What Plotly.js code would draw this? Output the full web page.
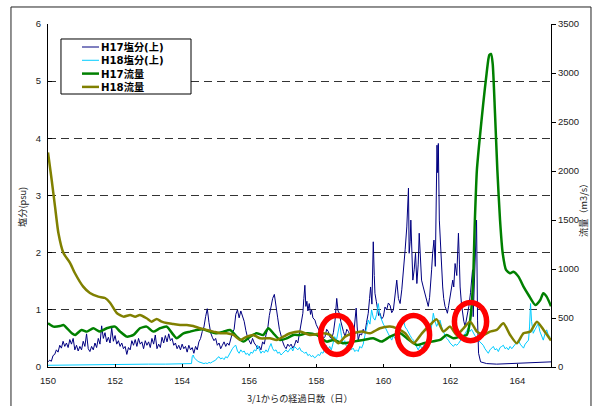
<!DOCTYPE html>
<html><head><meta charset="utf-8">
<script src="https://cdn.plot.ly/plotly-3.0.1.min.js"></script>
<style>html,body{margin:0;padding:0;background:#fff}#chart{width:595px;height:406px}</style>
</head><body><div id="chart"></div>
<script>
// ---- data ----
const seriesNames = ['H17塩分(上)', 'H18塩分(上)', 'H17流量', 'H18流量'];

const h17SaltDay = [150.00,150.05,150.10,150.15,150.20,150.25,150.30,150.35,150.40,150.45,150.50,150.55,150.60,150.65,150.70,150.75,150.80,150.85,150.90,150.95,
151.00,151.05,151.10,151.15,151.20,151.25,151.30,151.35,151.40,151.45,151.50,151.55,151.60,151.65,151.70,151.75,151.80,151.85,151.90,151.95,
152.00,152.05,152.10,152.15,152.20,152.25,152.30,152.35,152.40,152.45,152.50,152.55,152.60,152.65,152.70,152.75,152.80,152.85,152.90,152.95,
153.00,153.05,153.10,153.15,153.20,153.25,153.30,153.35,153.40,153.45,153.50,153.55,153.60,153.65,153.70,153.75,153.80,153.85,153.90,153.95,
154.00,154.05,154.10,154.15,154.20,154.25,154.30,154.35,154.40,154.45,154.50,154.55,154.60,154.65,154.70,154.75,154.80,154.85,154.90,154.95,
155.00,155.05,155.10,155.15,155.20,155.25,155.30,155.35,155.40,155.45,155.50,155.55,155.60,155.65,155.70,155.75,155.80,155.85,155.90,155.95,
156.00,156.05,156.10,156.15,156.20,156.25,156.30,156.35,156.40,156.45,156.50,156.55,156.60,156.65,156.70,156.75,156.80,156.85,156.90,156.95,
157.00,157.05,157.10,157.15,157.20,157.25,157.30,157.35,157.40,157.45,157.50,157.55,157.60,157.63,157.66,157.69,157.72,157.75,157.79,157.83,
157.86,157.90,157.96,158.00,158.06,158.10,158.16,158.21,158.26,158.31,158.36,158.41,158.46,158.51,158.56,158.61,158.65,158.69,158.73,158.76,
158.81,158.86,158.91,158.96,159.01,159.06,159.12,159.16,159.19,159.22,159.25,159.30,159.35,159.40,159.45,159.50,159.55,159.59,159.62,159.66,
159.70,159.73,159.75,159.79,159.82,159.86,159.90,159.95,160.00,160.05,160.10,160.15,160.20,160.25,160.30,160.35,160.40,160.45,160.50,160.55,
160.60,160.65,160.70,160.75,160.77,160.80,160.82,160.85,160.88,160.92,160.96,161.00,161.04,161.07,161.10,161.14,161.19,161.24,161.29,161.34,
161.38,161.41,161.44,161.47,161.51,161.55,161.58,161.60,161.62,161.64,161.67,161.71,161.74,161.77,161.80,161.84,161.88,161.91,161.95,161.99,
162.03,162.07,162.10,162.14,162.19,162.24,162.27,162.29,162.33,162.37,162.40,162.44,162.49,162.55,162.60,162.64,162.66,162.68,162.71,162.73,
162.76,162.78,162.81,162.84,162.90,163.00,163.08,163.38,163.78,164.18,164.57,165.00];
const h17Salt = [0.09,0.12,0.10,0.20,0.22,0.30,0.26,0.38,0.33,0.45,0.36,0.42,0.34,0.48,0.40,0.50,0.30,0.38,0.28,0.36,
0.30,0.45,0.36,0.58,0.32,0.27,0.36,0.30,0.42,0.34,0.50,0.40,0.72,0.50,0.60,0.44,0.52,0.42,0.68,0.45,
0.55,0.40,0.46,0.36,0.42,0.32,0.36,0.22,0.34,0.30,0.46,0.38,0.48,0.36,0.50,0.40,0.44,0.32,0.46,0.38,
0.44,0.34,0.50,0.40,0.56,0.32,0.40,0.34,0.52,0.42,0.55,0.44,0.58,0.46,0.50,0.38,0.42,0.32,0.38,0.30,
0.40,0.32,0.36,0.26,0.38,0.30,0.34,0.24,0.36,0.30,0.44,0.50,0.62,0.70,0.88,1.02,0.78,0.60,0.52,0.46,
0.50,0.38,0.42,0.32,0.38,0.44,0.36,0.42,0.38,0.52,0.60,0.66,0.92,1.00,0.86,0.98,0.90,0.80,0.64,0.52,
0.46,0.40,0.50,0.42,0.38,0.32,0.36,0.30,0.44,0.40,0.56,0.66,0.90,1.05,1.20,1.27,1.02,0.86,0.66,0.52,
0.44,0.36,0.32,0.40,0.36,0.40,0.33,0.38,0.47,0.42,0.59,0.70,0.94,1.20,1.43,1.06,1.15,0.98,1.11,0.92,
1.00,0.86,0.82,0.74,0.68,0.62,0.59,0.50,0.53,0.66,0.62,0.52,0.50,0.60,0.82,1.20,0.98,0.94,0.80,0.71,
0.62,0.53,0.66,0.62,0.54,0.47,0.60,0.80,1.03,0.70,0.47,0.58,0.56,0.66,0.59,0.78,0.94,1.20,1.40,1.10,
2.19,1.60,1.29,1.15,1.06,0.90,0.94,0.84,0.88,1.05,1.00,1.12,1.08,0.95,1.00,1.22,1.52,1.20,1.11,1.35,
1.64,2.05,2.45,3.13,1.99,2.20,2.57,1.90,1.52,1.70,1.99,1.46,1.80,2.34,1.90,1.52,1.40,1.29,1.15,1.06,
1.22,1.40,1.70,1.99,2.22,1.76,2.90,3.88,3.40,3.91,2.57,1.99,1.65,1.40,1.20,1.06,1.00,0.94,1.08,1.23,
1.35,1.52,1.40,1.81,1.60,2.34,1.80,1.40,1.10,0.88,0.80,0.71,0.85,1.06,1.30,1.55,1.70,0.88,1.50,1.99,
2.30,2.57,0.82,0.24,0.09,0.07,0.06,0.05,0.06,0.08,0.08,0.09];

const h18SaltDay = [150.00,151.00,152.00,153.00,153.50,154.00,154.28,154.30,154.33,154.36,154.40,154.45,154.50,154.55,154.60,154.65,154.70,154.75,154.80,154.85,
154.90,154.95,155.00,155.05,155.10,155.15,155.20,155.25,155.30,155.35,155.40,155.45,155.50,155.55,155.60,155.65,155.70,155.75,155.80,155.85,
155.90,155.95,156.00,156.05,156.10,156.15,156.20,156.25,156.30,156.35,156.40,156.45,156.50,156.55,156.60,156.65,156.70,156.75,156.80,156.85,
156.90,156.95,157.00,157.05,157.10,157.15,157.20,157.25,157.30,157.35,157.40,157.45,157.50,157.55,157.60,157.65,157.70,157.75,157.80,157.85,
157.90,157.95,158.00,158.05,158.10,158.15,158.20,158.25,158.30,158.35,158.40,158.45,158.50,158.55,158.60,158.65,158.70,158.75,158.80,158.85,
158.90,158.95,159.00,159.05,159.10,159.15,159.20,159.25,159.30,159.35,159.40,159.45,159.50,159.55,159.60,159.65,159.70,159.75,159.80,159.85,
159.90,159.95,160.00,160.05,160.10,160.15,160.20,160.25,160.30,160.35,160.40,160.45,160.50,160.55,160.60,160.65,160.70,160.75,160.80,160.85,
160.90,160.95,161.00,161.04,161.10,161.15,161.19,161.25,161.30,161.34,161.40,161.45,161.49,161.54,161.59,161.64,161.69,161.74,161.79,161.84,
161.89,161.94,161.99,162.04,162.09,162.14,162.19,162.24,162.29,162.34,162.39,162.44,162.49,162.53,162.58,162.63,162.68,162.73,162.78,162.83,
162.88,162.93,162.98,163.03,163.08,163.13,163.18,163.23,163.28,163.33,163.38,163.43,163.48,163.53,163.58,163.63,163.68,163.73,163.78,163.83,
163.88,163.93,163.98,164.03,164.08,164.13,164.18,164.23,164.28,164.33,164.36,164.39,164.42,164.47,164.52,164.57,164.62,164.67,164.72,164.77,
164.82,164.87,164.92,164.97];
const h18Salt = [0.03,0.04,0.04,0.05,0.05,0.06,0.06,0.18,0.21,0.16,0.13,0.11,0.09,0.08,0.07,0.06,0.07,0.06,0.08,0.07,
0.09,0.10,0.12,0.16,0.18,0.14,0.16,0.13,0.18,0.16,0.22,0.26,0.32,0.36,0.38,0.28,0.24,0.30,0.26,0.28,
0.22,0.24,0.20,0.26,0.24,0.30,0.28,0.38,0.30,0.24,0.28,0.25,0.30,0.26,0.34,0.41,0.32,0.28,0.30,0.24,
0.26,0.21,0.24,0.28,0.30,0.26,0.30,0.34,0.28,0.36,0.33,0.30,0.34,0.28,0.27,0.24,0.26,0.20,0.22,0.18,
0.20,0.16,0.18,0.22,0.20,0.26,0.24,0.32,0.38,0.30,0.36,0.30,0.42,0.53,0.46,0.60,0.76,0.55,0.41,0.46,
0.36,0.34,0.38,0.30,0.33,0.27,0.30,0.27,0.36,0.33,0.40,0.55,0.70,0.82,0.75,1.00,0.86,0.82,0.92,1.11,
0.90,0.82,0.75,0.70,0.65,0.58,0.52,0.47,0.55,0.50,0.53,0.62,0.70,0.78,0.82,0.70,0.66,0.59,0.55,0.50,
0.47,0.40,0.34,0.30,0.38,0.32,0.36,0.42,0.40,0.47,0.60,0.75,0.94,0.80,0.71,0.78,0.82,0.70,0.62,0.55,
0.50,0.47,0.42,0.38,0.36,0.40,0.38,0.41,0.46,0.50,0.53,0.60,0.64,0.68,0.62,0.66,0.59,0.55,0.50,0.47,
0.44,0.40,0.38,0.32,0.28,0.24,0.30,0.34,0.36,0.30,0.32,0.27,0.34,0.36,0.38,0.32,0.34,0.30,0.36,0.32,
0.36,0.40,0.44,0.47,0.40,0.36,0.33,0.40,0.44,0.47,0.70,1.11,0.80,0.59,0.65,0.72,0.76,0.62,0.55,0.47,
0.58,0.65,0.56,0.53];

const h17FlowDay = [150.0,150.16,150.36,150.46,150.71,150.81,151.0,151.16,151.35,151.55,151.75,152.0,152.15,152.35,152.55,152.74,152.94,153.14,153.34,153.54,153.74,153.84,154.04,154.24,154.43,154.63,154.83,155.03,155.23,155.43,155.63,155.83,156.03,156.22,156.42,156.57,156.72,156.92,157.12,157.32,157.52,157.71,158.01,158.31,158.51,158.81,159.1,159.4,159.7,159.95,160.2,160.5,160.7,161.0,161.2,161.44,161.69,161.89,162.09,162.29,162.49,162.59,162.67,162.73,162.79,162.87,162.98,163.08,163.16,163.21,163.26,163.33,163.4,163.48,163.56,163.66,163.78,163.88,164.03,164.18,164.33,164.53,164.68,164.77,164.87,165.0];
const h17Flow = [446,412,418,429,344,327,378,361,395,361,395,412,361,310,327,395,412,361,395,412,327,293,344,361,378,385,361,344,361,378,310,259,310,344,327,395,344,276,293,327,327,344,327,259,276,242,259,276,293,259,310,344,293,225,242,259,276,327,293,310,327,480,820,1500,2010,2316,2690,2997,3184,3194,3099,2589,2010,1500,1160,990,956,973,922,820,735,633,684,752,718,620];

const h18FlowDay = [150.0,150.11,150.21,150.31,150.46,150.66,150.8,151.05,151.25,151.5,151.7,151.85,152.05,152.25,152.45,152.6,152.74,152.94,153.09,153.24,153.39,153.54,153.74,153.94,154.14,154.33,154.53,154.73,154.93,155.13,155.33,155.53,155.73,155.93,156.12,156.32,156.62,156.82,157.02,157.22,157.52,157.81,158.2,158.41,158.66,158.86,159.1,159.36,159.6,159.9,160.2,160.4,160.65,160.9,161.15,161.39,161.59,161.79,161.99,162.19,162.39,162.59,162.79,162.98,163.18,163.38,163.58,163.78,163.98,164.18,164.38,164.58,164.78,165.0];
const h18Flow = [2190,1908,1636,1367,1163,1061,959,820,755,718,704,656,551,514,530,514,531,497,463,490,463,449,439,429,429,418,395,378,361,344,344,327,276,310,327,293,293,276,310,344,361,327,344,327,242,310,344,361,344,395,412,395,344,242,344,429,486,361,412,327,395,463,361,327,361,378,446,327,242,344,361,463,378,270];

const xTickVals = [150,152,154,156,158,160,162,164];
const yTickVals = [0,1,2,3,4,5,6];
const y2TickVals = [0,500,1000,1500,2000,2500,3000,3500];

const seriesColors = ['#000080', '#00ccff', '#008000', '#808000'];
const seriesWidths = [1, 1, 2.5, 2.5];

// ---- traces ----
const traces = [
  {x: h17SaltDay, y: h17Salt, name: seriesNames[0], type: 'scatter', mode: 'lines', yaxis: 'y',
   line: {color: seriesColors[0], width: seriesWidths[0]}},
  {x: h18SaltDay, y: h18Salt, name: seriesNames[1], type: 'scatter', mode: 'lines', yaxis: 'y',
   line: {color: seriesColors[1], width: seriesWidths[1]}},
  {x: h17FlowDay, y: h17Flow, name: seriesNames[2], type: 'scatter', mode: 'lines', yaxis: 'y2',
   line: {color: seriesColors[2], width: seriesWidths[2], shape: 'spline', smoothing: 0.6}},
  {x: h18FlowDay, y: h18Flow, name: seriesNames[3], type: 'scatter', mode: 'lines', yaxis: 'y2',
   line: {color: seriesColors[3], width: seriesWidths[3], shape: 'spline', smoothing: 0.6}}
];

// ---- custom compact legend (one text block, 13.3 px rows) ----
const legX0 = 0.0258, legX1 = 0.2843, legY0 = 0.7959, legY1 = 0.9563;
const legRowY = [0.9329, 0.8942, 0.8554, 0.8166];
const shapes = [
  {type: 'rect', xref: 'paper', yref: 'paper', x0: -0.0736, x1: 1.0795, y0: -0.2, y1: 1.0496,
   line: {color: '#222', width: 1}, fillcolor: 'rgba(0,0,0,0)', layer: 'below'},
  {type: 'rect', xref: 'paper', yref: 'paper', x0: legX0, x1: legX1, y0: legY0, y1: legY1,
   line: {color: '#000', width: 1}, fillcolor: '#fff', layer: 'above'}
];
seriesNames.forEach((n, i) => {
  shapes.push({type: 'line', xref: 'paper', yref: 'paper', x0: 0.0676, x1: 0.1014, y0: legRowY[i], y1: legRowY[i],
    line: {color: seriesColors[i], width: seriesWidths[i]}, layer: 'above'});
});
const annotations = [{
  xref: 'paper', yref: 'paper', x: 0.1034, y: (legRowY[0] + legRowY[3]) / 2, xanchor: 'left', yanchor: 'middle',
  align: 'left', showarrow: false, borderpad: 0,
  text: seriesNames.map(n => '<b>' + n + '</b>').join('<br>'),
  font: {family: 'DejaVu Sans, Noto Sans CJK JP, sans-serif', size: 10.2, color: '#000'}
}];

// red highlight circles
const circleStyle = {color: '#ff0000', width: 5.5};
shapes.push({type: 'circle', xref: 'x', yref: 'y', x0: 158.13, x1: 159.09, y0: 0.22, y1: 0.90, line: circleStyle});
shapes.push({type: 'circle', xref: 'x', yref: 'y', x0: 160.42, x1: 161.38, y0: 0.22, y1: 0.90, line: circleStyle});
shapes.push({type: 'circle', xref: 'x', yref: 'y', x0: 162.12, x1: 163.08, y0: 0.46, y1: 1.13, line: circleStyle});

// axis titles
const titleFont = {family: 'Noto Sans CJK JP, sans-serif', size: 9.2, color: '#222'};
annotations.push({xref: 'paper', yref: 'paper', x: -0.0517, y: 0.4665, textangle: -90, showarrow: false,
  text: '塩分(psu)', font: titleFont, xanchor: 'center', yanchor: 'middle'});
annotations.push({xref: 'paper', yref: 'paper', x: 1.0636, y: 0.4636, textangle: -90, showarrow: false,
  text: '流量（m3/s）', font: titleFont, xanchor: 'center', yanchor: 'middle'});
annotations.push({xref: 'paper', yref: 'paper', x: 0.501, y: -0.0904, showarrow: false,
  text: '3/1からの経過日数（日）', font: titleFont, xanchor: 'center', yanchor: 'middle'});

const layout = {
  width: 595, height: 406,
  margin: {l: 48, r: 44, t: 24, b: 39, pad: 0},
  paper_bgcolor: '#fff', plot_bgcolor: '#fff',
  showlegend: false,
  font: {family: 'Liberation Sans, Arial, sans-serif', size: 9.5, color: '#222'},
  xaxis: {range: [150, 165], tickvals: xTickVals, ticks: 'inside', ticklen: 3, tickcolor: '#000',
    showline: true, linecolor: '#000', linewidth: 1, showgrid: false, zeroline: false, ticklabelstandoff: 5},
  yaxis: {range: [0, 6], tickvals: yTickVals, ticks: 'inside', ticklen: 4, tickcolor: '#000',
    showline: true, linecolor: '#000', linewidth: 1, showgrid: true, gridcolor: '#333', gridwidth: 1,
    griddash: '8px,5px', zeroline: false, ticklabelstandoff: 4},
  yaxis2: {range: [0, 3500], overlaying: 'y', side: 'right', tickvals: y2TickVals, ticks: 'outside', ticklen: 4,
    tickcolor: '#000', showline: true, linecolor: '#000', linewidth: 1, showgrid: false, zeroline: false},
  shapes: shapes,
  annotations: annotations
};

Plotly.newPlot('chart', traces, layout, {staticPlot: true, displayModeBar: false});
</script></body></html>
